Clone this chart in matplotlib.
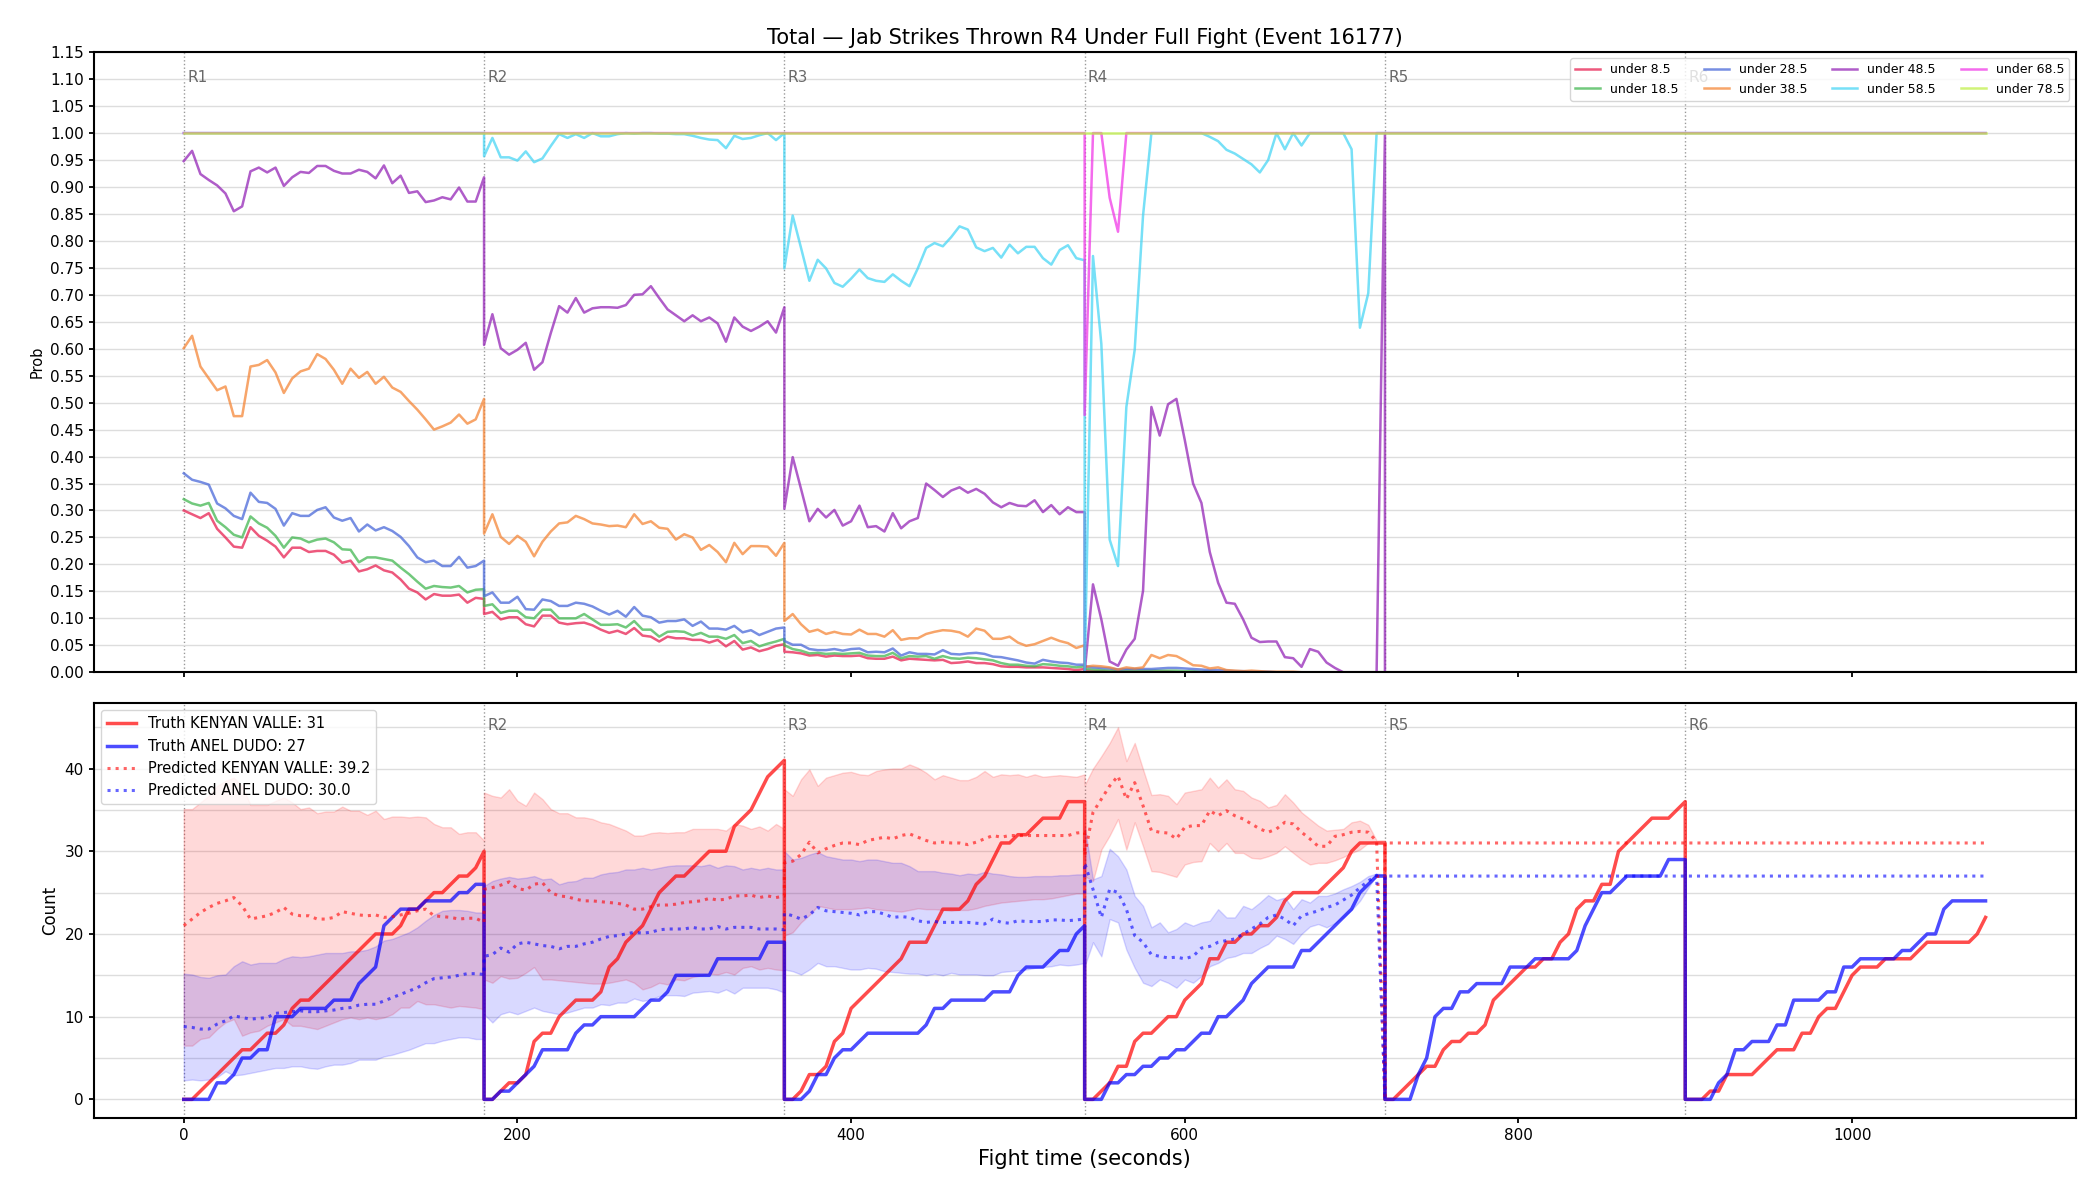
import numpy as np
import matplotlib
matplotlib.use("Agg")
import matplotlib.pyplot as plt
from matplotlib.ticker import MultipleLocator, FormatStrFormatter

# ---------------- data ----------------
ROUND_STARTS = [0, 180, 360, 540, 720, 900]
ROUND_LABELS = ["R1", "R2", "R3", "R4", "R5", "R6"]
STEP = 5  # seconds between samples (37 samples per round)

THRESH_LABELS = ["under 8.5", "under 18.5", "under 28.5", "under 38.5",
                 "under 48.5", "under 58.5", "under 68.5", "under 78.5"]
THRESH_COLORS = ["#e6194b", "#3cb44b", "#4363d8", "#f58231",
                 "#911eb4", "#42d4f4", "#f032e6", "#bfef45"]

ZERO_R = [0.0] * 37
ONE_R = [1.0] * 37

u8_r1 = [0.300,0.293,0.286,0.295,0.266,0.250,0.233,0.231,0.269,0.253,0.244,0.233,0.213,0.231,0.231,0.223,0.225,0.225,0.218,0.203,0.207,0.187,0.191,0.198,0.189,0.185,0.172,0.155,0.148,0.135,0.145,0.142,0.142,0.144,0.129,0.138,0.136]
u8_r2 = [0.108,0.112,0.098,0.102,0.102,0.089,0.085,0.105,0.105,0.092,0.089,0.091,0.092,0.087,0.079,0.073,0.077,0.071,0.082,0.068,0.066,0.057,0.066,0.063,0.063,0.060,0.060,0.055,0.060,0.048,0.058,0.042,0.046,0.039,0.043,0.049,0.052]
u8_r3 = [0.038,0.037,0.035,0.031,0.032,0.029,0.031,0.030,0.030,0.031,0.026,0.025,0.025,0.029,0.022,0.025,0.024,0.023,0.022,0.023,0.017,0.018,0.020,0.017,0.017,0.015,0.011,0.010,0.010,0.009,0.009,0.009,0.008,0.007,0.006,0.004,0.006]
u8_r4 = [0.003,0.002,0.002,0.001,0.001,0.001,0.001,0.001,0.001,0.001,0.001] + [0.0] * 26

u18_r1 = [0.321,0.313,0.309,0.314,0.281,0.269,0.255,0.250,0.289,0.276,0.268,0.253,0.231,0.250,0.248,0.241,0.246,0.248,0.241,0.228,0.227,0.204,0.213,0.213,0.210,0.207,0.194,0.182,0.168,0.155,0.160,0.158,0.157,0.160,0.148,0.153,0.154]
u18_r2 = [0.123,0.126,0.110,0.114,0.114,0.102,0.100,0.116,0.116,0.100,0.100,0.100,0.108,0.098,0.088,0.088,0.089,0.083,0.095,0.079,0.079,0.066,0.075,0.076,0.075,0.068,0.073,0.066,0.066,0.062,0.069,0.054,0.058,0.048,0.053,0.057,0.062]
u18_r3 = [0.050,0.043,0.040,0.035,0.036,0.034,0.035,0.034,0.035,0.036,0.031,0.030,0.030,0.036,0.026,0.030,0.029,0.030,0.025,0.030,0.026,0.025,0.027,0.026,0.024,0.022,0.017,0.014,0.014,0.012,0.011,0.015,0.014,0.012,0.011,0.009,0.011]
u18_r4 = [0.006,0.005,0.004,0.003,0.002,0.003,0.003,0.003,0.003,0.003,0.003,0.003,0.002,0.002,0.001,0.001] + [0.0] * 21

u28_r1 = [0.369,0.357,0.353,0.348,0.313,0.304,0.290,0.284,0.333,0.316,0.314,0.303,0.272,0.295,0.290,0.290,0.301,0.306,0.287,0.281,0.286,0.261,0.274,0.263,0.269,0.262,0.251,0.234,0.213,0.204,0.207,0.197,0.197,0.214,0.194,0.197,0.207]
u28_r2 = [0.141,0.148,0.129,0.129,0.140,0.117,0.116,0.135,0.132,0.123,0.123,0.129,0.127,0.122,0.114,0.107,0.114,0.103,0.121,0.105,0.102,0.092,0.095,0.095,0.098,0.086,0.094,0.081,0.081,0.079,0.086,0.074,0.078,0.069,0.075,0.081,0.083]
u28_r3 = [0.058,0.051,0.051,0.043,0.041,0.041,0.043,0.040,0.043,0.044,0.037,0.038,0.037,0.044,0.031,0.037,0.034,0.034,0.033,0.041,0.034,0.033,0.035,0.036,0.034,0.029,0.028,0.025,0.022,0.018,0.016,0.023,0.020,0.018,0.017,0.014,0.014]
u28_r4 = [0.011,0.009,0.008,0.007,0.005,0.006,0.006,0.006,0.006,0.007,0.008,0.008,0.007,0.006,0.005,0.004,0.004,0.003,0.002,0.002,0.001,0.001,0.001] + [0.0] * 14

u38_r1 = [0.601,0.624,0.567,0.545,0.523,0.530,0.475,0.475,0.567,0.570,0.579,0.556,0.518,0.545,0.558,0.563,0.590,0.581,0.561,0.535,0.563,0.546,0.557,0.535,0.548,0.528,0.520,0.503,0.487,0.469,0.450,0.456,0.463,0.478,0.461,0.469,0.507]
u38_r2 = [0.257,0.293,0.251,0.238,0.253,0.242,0.215,0.242,0.261,0.276,0.278,0.290,0.284,0.276,0.274,0.271,0.272,0.269,0.293,0.275,0.280,0.268,0.266,0.246,0.256,0.250,0.227,0.236,0.223,0.204,0.240,0.219,0.234,0.234,0.233,0.216,0.240]
u38_r3 = [0.095,0.108,0.089,0.075,0.079,0.071,0.075,0.071,0.070,0.079,0.071,0.071,0.066,0.078,0.060,0.063,0.063,0.071,0.075,0.078,0.077,0.074,0.066,0.081,0.077,0.062,0.062,0.066,0.055,0.049,0.052,0.058,0.064,0.058,0.054,0.045,0.050]
u38_r4 = [0.010,0.012,0.011,0.009,0.005,0.009,0.007,0.009,0.032,0.026,0.032,0.030,0.022,0.013,0.012,0.007,0.009,0.004,0.003,0.002,0.003,0.002,0.001,0.001,0.001,0.001] + [0.0] * 11

u48_r1 = [0.948,0.967,0.924,0.913,0.903,0.888,0.855,0.864,0.929,0.936,0.927,0.936,0.902,0.918,0.928,0.926,0.939,0.939,0.930,0.925,0.925,0.932,0.928,0.916,0.940,0.907,0.921,0.889,0.892,0.872,0.875,0.881,0.877,0.899,0.873,0.873,0.918]
u48_r2 = [0.607,0.664,0.601,0.589,0.598,0.611,0.561,0.575,0.629,0.679,0.667,0.694,0.667,0.675,0.677,0.677,0.676,0.681,0.700,0.701,0.716,0.694,0.673,0.662,0.651,0.662,0.651,0.658,0.647,0.613,0.658,0.641,0.633,0.641,0.651,0.630,0.677]
u48_r3 = [0.303,0.399,0.340,0.280,0.303,0.287,0.301,0.272,0.280,0.309,0.269,0.271,0.261,0.295,0.267,0.280,0.286,0.350,0.338,0.325,0.337,0.343,0.333,0.340,0.331,0.315,0.306,0.314,0.309,0.308,0.319,0.297,0.310,0.293,0.306,0.297,0.297]
u48_r4 = [0.0,0.163,0.098,0.020,0.012,0.042,0.062,0.151,0.492,0.439,0.497,0.507,0.431,0.350,0.314,0.223,0.166,0.129,0.127,0.098,0.064,0.056,0.057,0.057,0.028,0.026,0.010,0.043,0.038,0.018,0.008,0.0,0.0,0.0,0.0,0.0,1.0]

u58_r2 = [0.957,0.991,0.955,0.955,0.949,0.966,0.946,0.953,0.976,0.998,0.991,0.998,0.991,1.0,0.994,0.994,0.998,1.0,0.999,1.0,1.0,0.999,0.999,0.998,0.998,0.995,0.991,0.988,0.987,0.972,0.995,0.989,0.991,0.996,1.0,0.987,1.0]
u58_r3 = [0.749,0.847,0.787,0.726,0.765,0.749,0.722,0.715,0.730,0.747,0.731,0.726,0.724,0.738,0.726,0.716,0.749,0.787,0.796,0.790,0.807,0.827,0.821,0.788,0.781,0.787,0.769,0.793,0.777,0.789,0.789,0.768,0.756,0.783,0.792,0.768,0.764]
u58_r4 = [0.0,0.772,0.609,0.246,0.197,0.492,0.598,0.847,1.0,1.0,1.0,1.0,1.0,1.0,1.0,0.993,0.985,0.969,0.962,0.952,0.942,0.927,0.950,1.0,0.970,1.0,0.977,1.0,1.0,1.0,1.0,1.0,0.970,0.639,0.703,1.0,1.0]

u68_r4 = [0.477,1.0,1.0,0.880,0.817] + [1.0] * 32

PROB_SERIES = [
    [u8_r1, u8_r2, u8_r3, u8_r4, ZERO_R, ZERO_R],
    [u18_r1, u18_r2, u18_r3, u18_r4, ZERO_R, ZERO_R],
    [u28_r1, u28_r2, u28_r3, u28_r4, ZERO_R, ZERO_R],
    [u38_r1, u38_r2, u38_r3, u38_r4, ZERO_R, ZERO_R],
    [u48_r1, u48_r2, u48_r3, u48_r4, ZERO_R, ZERO_R],
    [ONE_R, u58_r2, u58_r3, u58_r4, ONE_R, ONE_R],
    [ONE_R, ONE_R, ONE_R, u68_r4, ONE_R, ONE_R],
    [ONE_R, ONE_R, ONE_R, ONE_R, ONE_R, ONE_R],
]

# truth counts per round
kv_r1 = [0,0,1,2,3,4,5,6,6,7,8,8,9,11,12,12,13,14,15,16,17,18,19,20,20,20,21,23,23,24,25,25,26,27,27,28,30]
kv_r2 = [0,0,1,2,2,3,7,8,8,10,11,12,12,12,13,16,17,19,20,21,23,25,26,27,27,28,29,30,30,30,33,34,35,37,39,40,41]
kv_r3 = [0,0,1,3,3,4,7,8,11,12,13,14,15,16,17,19,19,19,21,23,23,23,24,26,27,29,31,31,32,32,33,34,34,34,36,36,36]
kv_r4 = [0,0,1,2,4,4,7,8,8,9,10,10,12,13,14,17,17,19,19,20,20,21,21,22,24,25,25,25,25,26,27,28,30,31,31,31,31]
kv_r5 = [0,0,1,2,3,4,4,6,7,7,8,8,9,12,13,14,15,16,16,17,17,19,20,23,24,24,26,26,30,31,32,33,34,34,34,35,36]
kv_r6 = [0,0,0,1,1,3,3,3,3,4,5,6,6,6,8,8,10,11,11,13,15,16,16,16,17,17,17,17,18,19,19,19,19,19,19,20,22]

ad_r1 = [0,0,0,0,2,2,3,5,5,6,6,10,10,10,11,11,11,11,12,12,12,14,15,16,21,22,23,23,23,24,24,24,24,25,25,26,26]
ad_r2 = [0,0,1,1,2,3,4,6,6,6,6,8,9,9,10,10,10,10,10,11,12,12,13,15,15,15,15,15,17,17,17,17,17,17,19,19,19]
ad_r3 = [0,0,0,1,3,3,5,6,6,7,8,8,8,8,8,8,8,9,11,11,12,12,12,12,12,13,13,13,15,16,16,16,17,18,18,20,21]
ad_r4 = [0,0,0,2,2,3,3,4,4,5,5,6,6,7,8,8,10,10,11,12,14,15,16,16,16,16,18,18,19,20,21,22,23,25,26,27,27]
ad_r5 = [0,0,0,0,3,5,10,11,11,13,13,14,14,14,14,16,16,16,17,17,17,17,17,18,21,23,25,25,26,27,27,27,27,27,29,29,29]
ad_r6 = [0,0,0,0,2,3,6,6,7,7,7,9,9,12,12,12,12,13,13,16,16,17,17,17,17,17,18,18,19,20,20,23,24,24,24,24,24]

# predicted (R1-R4) with bands
pk_r1 = [21.0,21.8,22.6,23.2,23.7,24.0,24.4,23.4,21.8,22.0,22.2,22.6,23.2,22.4,22.2,22.2,21.8,21.8,22.0,22.7,22.5,22.3,22.2,22.3,22.0,22.1,22.3,22.5,22.8,23.0,22.2,22.1,22.0,21.8,21.9,21.9,21.4]
pk_r2 = [25.4,25.6,25.9,26.3,25.5,25.3,26.0,26.2,25.0,24.6,24.5,24.2,24.0,24.0,23.9,23.8,23.7,23.5,23.0,23.0,23.3,23.5,23.5,23.6,23.8,23.9,24.0,24.3,24.1,24.2,24.6,24.6,24.7,24.4,24.6,24.4,24.6]
pk_r3 = [28.6,28.8,29.6,31.1,29.8,30.3,30.7,31.0,31.0,30.8,31.3,31.5,31.7,31.5,31.9,32.1,31.7,31.3,31.0,31.1,31.0,31.0,30.8,31.1,31.5,31.9,31.7,31.9,31.9,31.9,31.9,31.9,31.9,31.9,31.9,32.2,32.3]
pk_r4 = [29.5,34.7,36.3,37.9,39.1,36.3,38.3,35.5,32.5,32.3,32.2,31.5,32.9,33.1,33.1,34.9,34.3,34.9,34.3,33.9,33.3,32.7,32.3,32.7,33.5,33.3,32.3,31.5,30.6,30.6,31.8,32.0,32.3,32.4,32.3,31.2,0.0]
pk_hi_r1 = [35.1,35.1,35.9,36.7,37.9,38.5,38.9,37.9,35.6,35.6,35.6,36.1,36.5,35.9,35.1,35.3,34.6,34.8,34.8,35.4,34.9,34.9,34.4,34.9,33.9,34.2,34.2,34.1,34.2,34.1,33.3,32.9,32.9,32.1,32.3,32.3,31.3]
pk_lo_r1 = [6.5,6.5,7.3,7.5,8.5,9.3,9.7,7.7,8.1,8.3,8.9,9.3,9.7,8.9,8.9,8.7,8.5,8.9,9.3,9.7,9.9,9.7,9.9,9.7,9.9,10.3,11.1,11.1,11.9,11.5,11.5,11.3,11.1,11.3,11.2,11.1,10.9]
pk_hi_r2 = [37.1,36.7,36.5,37.5,36.1,35.5,37.1,36.3,35.1,34.6,34.6,34.1,34.1,33.9,33.5,33.3,32.9,32.5,31.9,31.9,32.2,32.3,32.2,32.3,32.3,32.7,32.7,32.7,32.7,32.5,33.3,33.1,32.7,33.0,32.5,33.3,32.7]
pk_lo_r2 = [14.5,14.1,14.9,14.6,14.7,15.3,16.0,14.5,14.5,14.4,14.3,14.2,14.1,14.0,14.0,14.1,14.3,14.5,14.1,13.3,13.6,14.1,13.9,14.5,14.4,14.8,15.0,15.2,15.1,15.4,15.1,15.9,16.1,15.7,15.9,15.7,15.6]
pk_hi_r3 = [37.5,36.7,38.7,39.9,37.9,38.9,39.2,39.5,39.6,39.3,39.2,39.7,39.9,40.0,40.0,40.5,40.1,39.5,38.7,39.2,38.9,38.6,38.6,39.0,39.7,39.0,39.3,39.2,39.3,39.0,39.3,39.0,39.1,39.2,39.1,39.0,39.3]
pk_lo_r3 = [19.8,20.2,21.4,22.3,23.4,23.2,23.0,23.0,23.0,23.1,23.2,23.0,22.9,22.8,22.7,22.9,23.1,23.0,23.0,22.9,22.8,22.9,22.9,23.1,23.4,23.6,23.8,23.9,24.0,24.1,24.2,24.2,24.3,24.5,24.7,24.9,24.9]
pk_hi_r4 = [38.0,40.0,41.5,43.1,45.0,40.9,43.1,39.9,36.8,36.9,36.7,35.7,37.1,37.3,37.5,38.9,37.7,38.7,37.5,37.3,36.5,36.1,35.3,35.6,36.9,35.9,34.7,33.9,33.1,32.5,32.6,32.7,33.5,33.7,33.2,31.3,31.3]
pk_lo_r4 = [27.0,26.4,30.2,31.9,33.9,30.2,33.5,30.6,27.6,27.5,27.2,26.9,28.4,28.7,28.8,31.0,30.0,31.0,29.8,29.8,29.2,29.1,29.4,29.8,30.6,29.8,29.0,28.4,28.6,28.6,28.9,29.3,29.8,30.2,31.0,31.2,31.3]

pa_r1 = [8.8,8.7,8.5,8.5,9.1,9.5,10.1,9.9,9.7,9.8,9.9,10.4,10.5,10.6,10.7,10.6,10.6,10.7,10.8,11.0,11.1,11.4,11.5,11.5,11.9,12.3,12.7,13.1,13.5,14.1,14.6,14.7,14.8,15.0,15.2,15.2,15.1]
pa_r2 = [17.3,17.5,18.3,17.8,18.8,19.0,18.8,18.6,18.5,18.2,18.5,18.5,18.8,19.0,19.4,19.7,19.8,20.0,20.2,20.1,20.2,20.5,20.6,20.6,20.6,20.8,20.6,20.6,20.9,20.6,20.8,20.8,20.8,20.6,20.6,20.6,20.5]
pa_r3 = [22.5,22.2,21.8,22.3,23.2,22.8,22.7,22.6,22.5,22.3,22.7,22.7,22.4,22.0,22.1,22.0,21.6,21.4,21.5,21.4,21.4,21.4,21.4,21.3,21.2,21.8,21.4,21.3,21.6,21.5,21.5,21.5,21.7,21.7,21.6,21.7,21.8]
pa_r4 = [28.6,25.4,22.0,25.4,25.0,23.0,19.8,19.0,17.5,17.3,17.1,17.2,17.0,17.3,18.3,18.5,19.0,19.2,19.4,20.0,20.6,21.2,22.0,22.3,21.8,21.0,22.2,22.5,22.8,23.2,23.5,24.1,24.7,25.6,26.4,27.1,0.0]
pa_hi_r1 = [15.2,15.1,14.8,14.7,15.0,15.1,16.1,16.7,16.3,16.5,16.5,16.5,17.0,17.3,17.2,17.3,17.5,17.7,17.7,17.7,17.9,17.9,18.1,18.5,19.2,19.4,19.8,20.2,20.8,21.6,22.3,22.8,22.9,22.9,22.8,22.6,22.6]
pa_lo_r1 = [2.3,2.4,2.3,2.4,2.7,3.4,2.9,3.0,3.2,3.4,3.6,3.8,3.8,4.0,4.0,3.8,3.7,4.0,4.2,4.2,4.4,4.8,4.8,4.8,5.2,5.4,5.7,6.0,6.4,6.8,6.8,7.1,7.3,7.5,7.5,7.3,7.3]
pa_hi_r2 = [25.8,26.4,26.7,26.9,26.7,26.8,27.0,26.6,26.7,26.0,26.3,26.4,26.8,26.8,27.2,27.4,27.5,27.8,27.8,28.0,27.8,28.0,28.2,28.3,28.3,28.3,28.2,28.4,28.0,28.3,28.2,27.8,28.0,27.8,28.0,27.8,27.8]
pa_lo_r2 = [10.3,9.3,10.3,10.6,10.3,10.7,11.1,10.7,10.5,10.3,10.5,10.8,11.1,11.1,11.5,11.4,11.7,11.7,12.2,11.9,12.1,12.5,12.6,12.6,12.5,12.9,13.0,13.1,12.9,13.3,12.8,13.5,13.5,13.5,13.5,13.3,12.9]
pa_hi_r3 = [30.0,29.0,29.2,29.6,29.9,29.4,29.2,29.0,29.0,28.8,29.0,29.0,28.8,28.6,28.6,28.2,27.6,27.6,27.6,27.4,27.3,27.1,27.3,27.2,27.5,27.3,27.2,27.0,26.9,26.9,27.0,27.0,27.0,27.1,27.1,27.2,27.2]
pa_lo_r3 = [15.7,15.5,15.1,15.7,16.5,16.1,16.1,15.9,15.7,15.7,15.9,15.8,15.5,15.4,15.3,15.2,15.2,15.0,15.2,15.0,15.3,15.1,15.1,15.1,15.0,15.0,15.4,15.5,15.6,15.7,15.9,16.0,16.1,16.3,16.2,16.3,16.5]
pa_hi_r4 = [33.0,26.6,27.0,30.3,29.4,27.8,24.6,23.4,20.8,21.4,20.2,20.6,21.4,21.0,21.4,21.6,23.0,22.0,22.0,23.4,23.0,23.8,24.7,24.1,24.4,23.0,24.2,23.8,24.6,24.6,24.9,25.4,25.8,26.3,27.0,27.3,27.2]
pa_lo_r4 = [16.1,19.0,17.3,21.8,21.4,18.1,15.9,14.1,13.7,14.5,14.1,13.5,14.5,14.1,14.9,16.1,16.5,17.1,17.3,17.7,17.7,18.3,18.8,19.8,19.4,18.8,20.0,20.9,21.2,20.8,21.3,22.0,22.9,24.0,25.6,27.1,27.2]

# final predicted values held after R4 (R5-R6)
PRED_FINAL_KV = 31.0
PRED_FINAL_AD = 27.0

NAME_A = "KENYAN VALLE"
NAME_B = "ANEL DUDO"
TRUTH_A = 31
TRUTH_B = 27
PRED_A = 39.2
PRED_B = 30.0
TITLE = "Total \u2014 Jab Strikes Thrown R4 Under Full Fight (Event 16177)"

# ---------------- helpers ----------------
def round_times(start):
    return start + np.arange(0, 181, STEP)

def concat_rounds(lists, starts):
    t = np.concatenate([round_times(s) for s in starts])
    v = np.concatenate([np.asarray(l, dtype=float) for l in lists])
    return t, v

# ---------------- figure ----------------
fig = plt.figure(figsize=(21, 12), dpi=100)
ax1 = fig.add_axes([0.0446, 0.4398, 0.9438, 0.5167])
ax2 = fig.add_axes([0.0446, 0.0680, 0.9438, 0.3460], sharex=ax1)

for ax in (ax1, ax2):
    for sp in ax.spines.values():
        sp.set_linewidth(1.5)
    ax.tick_params(width=1.3, labelsize=11)

# top panel
for series, lab, col in zip(PROB_SERIES, THRESH_LABELS, THRESH_COLORS):
    t, v = concat_rounds(series, ROUND_STARTS)
    ax1.plot(t, v, color=col, alpha=0.72, lw=1.8, label=lab)

ax1.set_ylim(0, 1.15)
ax1.yaxis.set_major_locator(MultipleLocator(0.05))
ax1.yaxis.set_major_formatter(FormatStrFormatter("%.2f"))
ax1.grid(axis="y", color="#dddddd", lw=1.0)
ax1.set_axisbelow(True)
ax1.set_ylabel("Prob", fontsize=10.5)
ax1.tick_params(labelbottom=False)
ax1.set_title(TITLE, fontsize=15)
ax1.legend(loc="upper right", ncol=4, fontsize=9, framealpha=0.8)

# bottom panel
starts4 = ROUND_STARTS[:4]
tb, kv_hi = concat_rounds([pk_hi_r1, pk_hi_r2, pk_hi_r3, pk_hi_r4], starts4)
_, kv_lo = concat_rounds([pk_lo_r1, pk_lo_r2, pk_lo_r3, pk_lo_r4], starts4)
_, ad_hi = concat_rounds([pa_hi_r1, pa_hi_r2, pa_hi_r3, pa_hi_r4], starts4)
_, ad_lo = concat_rounds([pa_lo_r1, pa_lo_r2, pa_lo_r3, pa_lo_r4], starts4)
ax2.fill_between(tb, kv_lo, kv_hi, color="red", alpha=0.15, lw=1)
ax2.fill_between(tb, ad_lo, ad_hi, color="blue", alpha=0.15, lw=1)

tt, kv = concat_rounds([kv_r1, kv_r2, kv_r3, kv_r4, kv_r5, kv_r6], ROUND_STARTS)
_, ad = concat_rounds([ad_r1, ad_r2, ad_r3, ad_r4, ad_r5, ad_r6], ROUND_STARTS)
ax2.plot(tt, kv, color="red", alpha=0.7, lw=2.5, label=f"Truth {NAME_A}: {TRUTH_A}")
ax2.plot(tt, ad, color="blue", alpha=0.7, lw=2.5, label=f"Truth {NAME_B}: {TRUTH_B}")

t_tail = np.arange(ROUND_STARTS[4], ROUND_STARTS[5] + 181, STEP)
tp, pk = concat_rounds([pk_r1, pk_r2, pk_r3, pk_r4], starts4)
_, pa = concat_rounds([pa_r1, pa_r2, pa_r3, pa_r4], starts4)
tp = np.concatenate([tp, t_tail])
pk = np.concatenate([pk, np.full(len(t_tail), PRED_FINAL_KV)])
pa = np.concatenate([pa, np.full(len(t_tail), PRED_FINAL_AD)])
ax2.plot(tp, pk, color="red", alpha=0.6, lw=2.2, ls=":", label=f"Predicted {NAME_A}: {PRED_A}")
ax2.plot(tp, pa, color="blue", alpha=0.6, lw=2.2, ls=":", label=f"Predicted {NAME_B}: {PRED_B}")

ax2.set_ylim(-2.3, 47.9)
ax2.yaxis.set_major_locator(MultipleLocator(10))
ax2.yaxis.set_minor_locator(MultipleLocator(5))
ax2.tick_params(axis="y", which="minor", length=0)
ax2.grid(axis="y", which="both", color="#dddddd", lw=1.0)
ax2.set_axisbelow(True)
ax2.set_ylabel("Count", fontsize=12)
ax2.set_xlabel("Fight time (seconds)", fontsize=15)
leg2 = ax2.legend(loc="upper left", fontsize=10.5, framealpha=0.8)
leg2.set_zorder(5)

# round markers
for ax, yfrac in ((ax1, 0.959), (ax2, 0.946)):
    for s, lab in zip(ROUND_STARTS, ROUND_LABELS):
        ax.axvline(s, color="gray", ls=":", lw=1.0, alpha=0.8, zorder=0.5)
        if ax is ax2 and s == 0:
            continue  # hidden behind the legend in the reference
        ax.text(s + 2, yfrac, lab, color="dimgray", fontsize=11, va="center",
                transform=ax.get_xaxis_transform(), zorder=0.6)

ax1.set_xlim(-54, 1134)
fig.savefig("out.png", dpi=100)
